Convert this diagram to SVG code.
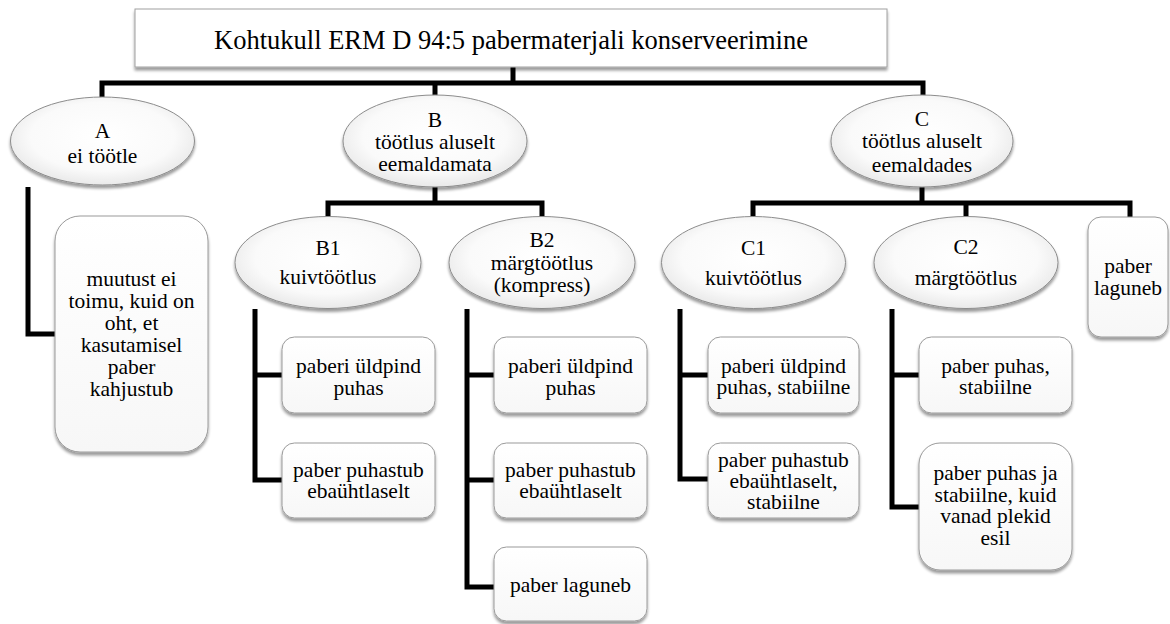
<svg xmlns="http://www.w3.org/2000/svg" width="1170" height="624" viewBox="0 0 1170 624">
  <defs>
    <radialGradient id="ellFill" cx="50%" cy="45%" r="60%">
      <stop offset="0%" stop-color="#ffffff"/>
      <stop offset="65%" stop-color="#fafafa"/>
      <stop offset="100%" stop-color="#e4e4e4"/>
    </radialGradient>
    <linearGradient id="boxFill" x1="0" y1="0" x2="0" y2="1">
      <stop offset="0%" stop-color="#ffffff"/>
      <stop offset="100%" stop-color="#f7f7f7"/>
    </linearGradient>
    <filter id="shadow" x="-10%" y="-10%" width="120%" height="130%">
      <feGaussianBlur in="SourceAlpha" stdDeviation="1.6"/>
      <feOffset dx="0" dy="3" result="off"/>
      <feComponentTransfer><feFuncA type="linear" slope="0.4"/></feComponentTransfer>
      <feMerge><feMergeNode/><feMergeNode in="SourceGraphic"/></feMerge>
    </filter>
  </defs>
  <style>
    text { font-family: "Liberation Serif", "Times New Roman", serif; fill: #000; text-anchor: middle; }
    .t { font-size: 21.5px; }
    .title { font-size: 26.5px; }
    .ell { fill: url(#ellFill); stroke: #8c8c8c; stroke-width: 1; filter: url(#shadow); }
    .box { fill: url(#boxFill); stroke: #9a9a9a; stroke-width: 1; filter: url(#shadow); }
    .head { fill: #ffffff; stroke: #a0a0a0; stroke-width: 1; filter: url(#shadow); }
    .wire { fill: none; stroke: #000; stroke-width: 5; stroke-linejoin: miter; stroke-linecap: butt; }
  </style>
  <rect width="1170" height="624" fill="#ffffff"/>

  <!-- connectors -->
  <g id="connectors">
    <path class="wire" d="M513 67 V83"/>
    <path class="wire" d="M102 98 V83 H923 V96"/>
    <path class="wire" d="M435 83 V96"/>
    <path class="wire" d="M28 187 V334 H56"/>
    <path class="wire" d="M435 186 V203"/>
    <path class="wire" d="M328 218 V203 H542 V218"/>
    <path class="wire" d="M922 186 V203"/>
    <path class="wire" d="M753 218 V203 H1130 V218"/>
    <path class="wire" d="M966 203 V218"/>
    <path class="wire" d="M255 309 V480 H283"/>
    <path class="wire" d="M255 375 H283"/>
    <path class="wire" d="M467 309 V587 H495"/>
    <path class="wire" d="M467 375 H495"/>
    <path class="wire" d="M467 480 H495"/>
    <path class="wire" d="M680 309 V479 H709"/>
    <path class="wire" d="M680 375 H709"/>
    <path class="wire" d="M892 309 V507 H920"/>
    <path class="wire" d="M892 375 H920"/>
  </g>

  <!-- title -->
  <g id="title">
    <rect class="head" x="135" y="9" width="752" height="58"/>
    <text class="title" x="511" y="49">Kohtukull ERM D 94:5 pabermaterjali konserveerimine</text>
  </g>

  <!-- level 1 -->
  <g id="nodeA">
    <ellipse class="ell" cx="102.5" cy="141" rx="92" ry="44"/>
    <text class="t" x="102.5" y="138">A</text>
    <text class="t" x="102.5" y="163">ei töötle</text>
  </g>
  <g id="nodeB">
    <ellipse class="ell" cx="435" cy="141" rx="92" ry="46"/>
    <text class="t" x="435" y="127">B</text>
    <text class="t" x="435" y="149">töötlus aluselt</text>
    <text class="t" x="435" y="171">eemaldamata</text>
  </g>
  <g id="nodeC">
    <ellipse class="ell" cx="922" cy="141" rx="91" ry="46"/>
    <text class="t" x="922" y="126">C</text>
    <text class="t" x="922" y="148">töötlus aluselt</text>
    <text class="t" x="922" y="172">eemaldades</text>
  </g>

  <!-- branch A -->
  <g id="nodeA-result">
    <rect class="box" x="55" y="216" width="153" height="236" rx="25"/>
    <text class="t" x="131.5" y="286">muutust ei</text>
    <text class="t" x="131.5" y="308">toimu, kuid on</text>
    <text class="t" x="131.5" y="330">oht, et</text>
    <text class="t" x="131.5" y="352">kasutamisel</text>
    <text class="t" x="131.5" y="374">paber</text>
    <text class="t" x="131.5" y="396">kahjustub</text>
  </g>

  <!-- branch B -->
  <g id="nodeB1">
    <ellipse class="ell" cx="328" cy="262.5" rx="93" ry="46"/>
    <text class="t" x="328" y="255">B1</text>
    <text class="t" x="328" y="284">kuivtöötlus</text>
  </g>
  <g id="nodeB2">
    <ellipse class="ell" cx="542" cy="262.5" rx="93" ry="46"/>
    <text class="t" x="542" y="247">B2</text>
    <text class="t" x="542" y="270">märgtöötlus</text>
    <text class="t" x="542" y="292">(kompress)</text>
  </g>
  <g id="nodeB1a">
    <rect class="box" x="282" y="337" width="153" height="76" rx="12.5"/>
    <text class="t" x="358.5" y="373">paberi üldpind</text>
    <text class="t" x="358.5" y="395">puhas</text>
  </g>
  <g id="nodeB1b">
    <rect class="box" x="282" y="443" width="153" height="75" rx="12.5"/>
    <text class="t" x="358.5" y="477">paber puhastub</text>
    <text class="t" x="358.5" y="498">ebaühtlaselt</text>
  </g>
  <g id="nodeB2a">
    <rect class="box" x="494" y="337" width="153" height="76" rx="12.5"/>
    <text class="t" x="570.5" y="373">paberi üldpind</text>
    <text class="t" x="570.5" y="395">puhas</text>
  </g>
  <g id="nodeB2b">
    <rect class="box" x="494" y="443" width="153" height="75" rx="12.5"/>
    <text class="t" x="570.5" y="477">paber puhastub</text>
    <text class="t" x="570.5" y="498">ebaühtlaselt</text>
  </g>
  <g id="nodeB2c">
    <rect class="box" x="494" y="547" width="153" height="74" rx="12.5"/>
    <text class="t" x="570.5" y="592">paber laguneb</text>
  </g>

  <!-- branch C -->
  <g id="nodeC1">
    <ellipse class="ell" cx="753.5" cy="262.5" rx="92" ry="46"/>
    <text class="t" x="753.5" y="255">C1</text>
    <text class="t" x="753.5" y="285">kuivtöötlus</text>
  </g>
  <g id="nodeC2">
    <ellipse class="ell" cx="966" cy="262.5" rx="92" ry="46"/>
    <text class="t" x="966" y="254">C2</text>
    <text class="t" x="966" y="285">märgtöötlus</text>
  </g>
  <g id="nodeC3">
    <rect class="box" x="1088" y="217" width="80" height="120" rx="13"/>
    <text class="t" x="1128" y="273">paber</text>
    <text class="t" x="1128" y="295">laguneb</text>
  </g>
  <g id="nodeC1a">
    <rect class="box" x="708" y="337" width="151" height="76" rx="12.5"/>
    <text class="t" x="783.5" y="373">paberi üldpind</text>
    <text class="t" x="783.5" y="394">puhas, stabiilne</text>
  </g>
  <g id="nodeC1b">
    <rect class="box" x="708" y="443" width="151" height="75" rx="12.5"/>
    <text class="t" x="783.5" y="467">paber puhastub</text>
    <text class="t" x="783.5" y="488">ebaühtlaselt,</text>
    <text class="t" x="783.5" y="509">stabiilne</text>
  </g>
  <g id="nodeC2a">
    <rect class="box" x="919" y="337" width="153" height="76" rx="12.5"/>
    <text class="t" x="995.5" y="373">paber puhas,</text>
    <text class="t" x="995.5" y="394">stabiilne</text>
  </g>
  <g id="nodeC2b">
    <rect class="box" x="919" y="443" width="153" height="127" rx="21"/>
    <text class="t" x="995.5" y="480">paber puhas ja</text>
    <text class="t" x="995.5" y="502">stabiilne, kuid</text>
    <text class="t" x="995.5" y="523">vanad plekid</text>
    <text class="t" x="995.5" y="545">esil</text>
  </g>
</svg>
